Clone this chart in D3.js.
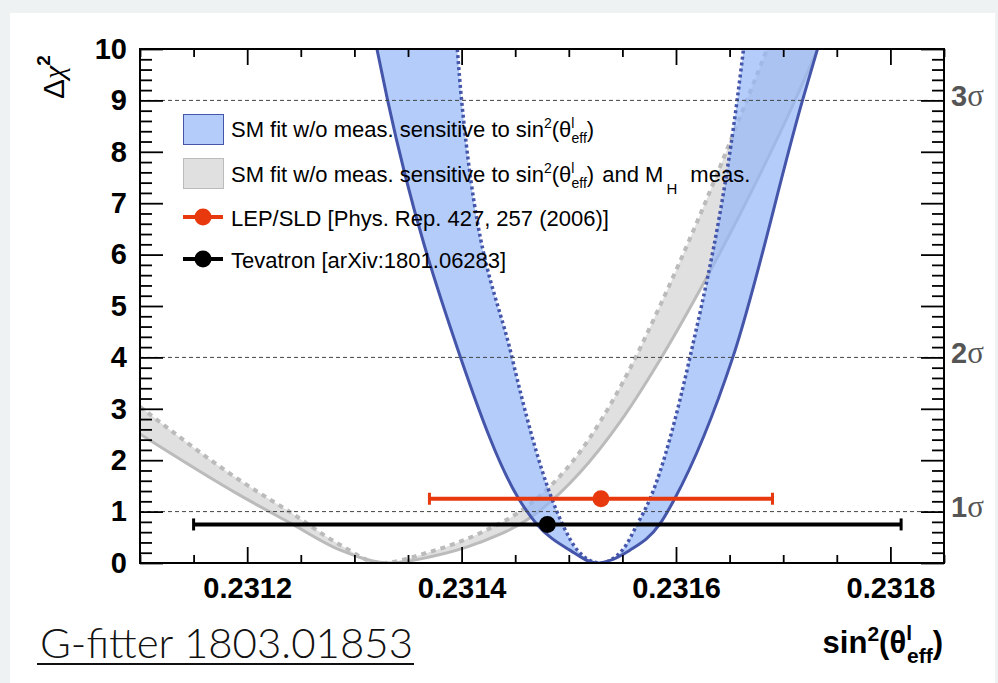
<!DOCTYPE html>
<html>
<head>
<meta charset="utf-8">
<title>sin2 theta eff scan</title>
<script src="https://cdn.jsdelivr.net/npm/d3@7"></script>
<style>
    body { margin: 0; background: #eef2f2; }
    text { font-family: "Liberation Sans", Arial, sans-serif; fill: #000; }
    .lab .tick text { font-weight: bold; font-size: 29px; }
    .ax .tick line { stroke: #000; stroke-width: 1.8; }
</style>
</head>
<body>
<script>
    // chi2 scans
    var fitX    = [0.231321, 0.231331, 0.231399, 0.231453, 0.231470, 0.231501, 0.231526, 0.231557, 0.231585, 0.231599, 0.231653, 0.231718, 0.231732];
    var fitChi2 = [10, 9, 4, 1.26, 0.76, 0.25, 0, 0.25, 0.76, 1.26, 4, 9, 10];
    var fitDotX    = [0.231396, 0.231400, 0.231447, 0.231484, 0.231494, 0.231508, 0.231529, 0.231550, 0.231564, 0.231576, 0.231613, 0.231657, 0.231663];
    var fitDotChi2 = [10, 9, 4, 1.26, 0.76, 0.25, 0, 0.25, 0.76, 1.26, 4, 9, 10];

    var mhX    = [0.231100, 0.231193, 0.231240, 0.231287, 0.231333, 0.231371, 0.231417, 0.231464, 0.231510, 0.231548, 0.231585, 0.231622, 0.231660, 0.231711, 0.231732];
    var mhChi2 = [2.51, 1.32, 0.78, 0.25, 0, 0.12, 0.4, 0.88, 1.75, 2.75, 3.95, 5.3, 6.8, 9.0, 10.0];
    var mhDotX    = [0.231100, 0.231193, 0.231240, 0.231287, 0.231324, 0.231371, 0.231417, 0.231464, 0.231510, 0.231550, 0.231585, 0.231622, 0.231666, 0.231685];
    var mhDotChi2 = [3.04, 1.61, 0.99, 0.35, 0, 0.22, 0.58, 1.15, 2.15, 3.5, 5.0, 6.75, 9.0, 10];

    // measurements
    var measNames = ['LEP/SLD [Phys. Rep. 427, 257 (2006)]', 'Tevatron [arXiv:1801.06283]'];
    var measValue = [0.23153, 0.23148];
    var measError = [0.00016, 0.00033];
    var measRow   = [1.25, 0.75];
    var measColor = ['#e8380d', '#000000'];

    var xTicks = [0.2312, 0.2314, 0.2316, 0.2318];
    var yTicks = [0, 1, 2, 3, 4, 5, 6, 7, 8, 9, 10];
    var sigmaLevels = [1, 4, 9];
    var sigmaLabels = ['1', '2', '3'];

    var margin = {left: 140, top: 49};
    var width = 804, height = 514;

    var root = d3.select('body').append('svg')
        .attr('width', 998)
        .attr('height', 683);

    root.append('rect').attr('width', 998).attr('height', 683).attr('fill', '#eef2f2');
    root.append('rect').attr('x', 10).attr('y', 13).attr('width', 985).attr('height', 670).attr('fill', '#fff');

    var svg = root.append('g')
        .attr('transform', 'translate(' + margin.left + ',' + margin.top + ')');

    var x = d3.scaleLinear().domain([0.2311, 0.23185]).range([0, width]);
    var y = d3.scaleLinear().domain([0, 10]).range([height, 0]);

    svg.append('clipPath').attr('id', 'clip')
        .append('rect').attr('width', width).attr('height', height);

    var line = d3.line()
        .x(function(d) { return x(d[0]); })
        .y(function(d) { return y(d[1]); })
        .curve(d3.curveMonotoneX);

    function band(lo, hi) {
        return line(lo) + line(hi.slice().reverse()).replace(/^M/, 'L') + 'Z';
    }

    var fit = d3.zip(fitX, fitChi2),
        fitDot = d3.zip(fitDotX, fitDotChi2),
        mh = d3.zip(mhX, mhChi2),
        mhDot = d3.zip(mhDotX, mhDotChi2);

    var plot = svg.append('g').attr('clip-path', 'url(#clip)');

    // gray band under, blue band drawn translucent on top
    plot.append('path').attr('d', band(mh, mhDot)).attr('fill', '#e0e0e0');
    plot.append('path').attr('d', line(mh)).attr('fill', 'none')
        .attr('stroke', '#bbb').attr('stroke-width', 3);
    plot.append('path').attr('d', line(mhDot)).attr('fill', 'none')
        .attr('stroke', '#bbb').attr('stroke-width', 4).attr('stroke-dasharray', '5,5');

    plot.append('path').attr('d', band(fit, fitDot)).attr('fill', 'rgb(148,183,248)')
        .attr('fill-opacity', 0.71);
    plot.append('path').attr('d', line(fit)).attr('fill', 'none')
        .attr('stroke', '#4455aa').attr('stroke-width', 3);
    plot.append('path').attr('d', line(fitDot)).attr('fill', 'none')
        .attr('stroke', '#4455aa').attr('stroke-width', 3.5).attr('stroke-dasharray', '3,3');

    // dashed sigma lines
    svg.selectAll('.sig').data(sigmaLevels).enter()
        .append('line')
        .attr('x1', 0).attr('x2', width)
        .attr('y1', function(d) { return y(d); })
        .attr('y2', function(d) { return y(d); })
        .attr('stroke', '#444').attr('stroke-width', 1)
        .attr('stroke-dasharray', '4,3');

    // measurements
    var meas = svg.selectAll('.meas').data(measValue).enter().append('g');
    meas.append('line')
        .attr('x1', function(d, i) { return x(d - measError[i]); })
        .attr('x2', function(d, i) { return x(d + measError[i]); })
        .attr('y1', function(d, i) { return y(measRow[i]); })
        .attr('y2', function(d, i) { return y(measRow[i]); })
        .attr('stroke', function(d, i) { return measColor[i]; })
        .attr('stroke-width', 4);
    [-1, 1].forEach(function(s) {
        meas.append('line')
            .attr('x1', function(d, i) { return x(d + s * measError[i]); })
            .attr('x2', function(d, i) { return x(d + s * measError[i]); })
            .attr('y1', function(d, i) { return y(measRow[i]) - 6; })
            .attr('y2', function(d, i) { return y(measRow[i]) + 6; })
            .attr('stroke', function(d, i) { return measColor[i]; })
            .attr('stroke-width', 3);
    });
    meas.append('circle')
        .attr('cx', function(d) { return x(d); })
        .attr('cy', function(d, i) { return y(measRow[i]); })
        .attr('r', 8.5)
        .attr('fill', function(d, i) { return measColor[i]; });

    // axes
    var xMinor = d3.range(0, 16).map(function(i) { return 0.2311 + i * 0.00005; })
        .filter(function(v) { return xTicks.every(function(t) { return Math.abs(t - v) > 1e-9; }); });
    var yMinor = d3.range(0, 51).map(function(i) { return i * 0.2; })
        .filter(function(v) { return Math.abs(v - Math.round(v)) > 1e-6; });

    function ax(g) { g.select('.domain').remove(); return g; }

    svg.append('g').attr('class', 'ax lab').attr('transform', 'translate(0,' + height + ')')
        .call(d3.axisBottom(x).tickValues(xTicks).tickSize(-16).tickPadding(14)
            .tickFormat(d3.format('.4f'))).call(ax);
    svg.append('g').attr('class', 'ax').attr('transform', 'translate(0,' + height + ')')
        .call(d3.axisBottom(x).tickValues(xMinor).tickSize(-8).tickFormat('')).call(ax);
    svg.append('g').attr('class', 'ax')
        .call(d3.axisTop(x).tickValues(xTicks).tickSize(-16).tickFormat('')).call(ax);
    svg.append('g').attr('class', 'ax')
        .call(d3.axisTop(x).tickValues(xMinor).tickSize(-8).tickFormat('')).call(ax);

    svg.append('g').attr('class', 'ax lab')
        .call(d3.axisLeft(y).tickValues(yTicks).tickSize(-23).tickPadding(13)).call(ax);
    svg.append('g').attr('class', 'ax')
        .call(d3.axisLeft(y).tickValues(yMinor).tickSize(-12).tickFormat('')).call(ax);
    svg.append('g').attr('class', 'ax').attr('transform', 'translate(' + width + ',0)')
        .call(d3.axisRight(y).tickValues(yTicks).tickSize(-23).tickFormat('')).call(ax);
    svg.append('g').attr('class', 'ax').attr('transform', 'translate(' + width + ',0)')
        .call(d3.axisRight(y).tickValues(yMinor).tickSize(-12).tickFormat('')).call(ax);

    svg.append('rect').attr('width', width).attr('height', height)
        .attr('fill', 'none').attr('stroke', '#000').attr('stroke-width', 2);

    // sigma labels on the right
    var sig = svg.selectAll('.siglab').data(sigmaLevels).enter()
        .append('text')
        .attr('x', width + 7)
        .attr('y', function(d) { return y(d); })
        .attr('dy', '0.36em')
        .style('fill', '#555');
    sig.append('tspan').style('font-weight', 'bold').style('font-size', '29px').style('fill', '#555')
        .text(function(d, i) { return sigmaLabels[i]; });
    sig.append('tspan').style('font-family', '"Liberation Serif", serif').style('font-size', '31px').style('fill', '#555')
        .text('\u03c3');

    // axis titles
    var yt = root.append('text')
        .attr('transform', 'translate(64,99) rotate(-90)')
        .style('font-size', '30px');
    yt.append('tspan').text('\u0394');
    yt.append('tspan').style('font-family', '"Liberation Serif", serif').style('font-style', 'italic').text('\u03c7');
    yt.append('tspan').attr('dy', -14).style('font-size', '19px').style('font-weight', 'bold').text('2');

    var xt = root.append('text')
        .attr('x', 943).attr('y', 653)
        .attr('text-anchor', 'end')
        .style('font-size', '31px').style('font-weight', 'bold');
    xt.append('tspan').text('sin');
    xt.append('tspan').attr('dy', -12).style('font-size', '21px').text('2');
    xt.append('tspan').attr('dy', 12).text('(\u03b8');
    xt.append('tspan').attr('dy', -13).style('font-size', '21px').text('l');
    xt.append('tspan').attr('dx', -5).attr('dy', 23).style('font-size', '21px').text('eff');
    xt.append('tspan').attr('dy', -10).text(')');

    // legend
    var lg = root.append('g').attr('transform', 'translate(183,0)');
    lg.append('rect').attr('x', 0.5).attr('y', 114.5).attr('width', 40).attr('height', 30)
        .attr('fill', '#b3ccfa').attr('stroke', '#4455aa').attr('stroke-width', 1);
    lg.append('rect').attr('x', 0.5).attr('y', 158.5).attr('width', 40).attr('height', 30)
        .attr('fill', '#e0e0e0').attr('stroke', '#bbb').attr('stroke-width', 1);

    function thetaEff(t) {
        t.append('tspan').attr('dy', -9).style('font-size', '14px').text('2');
        t.append('tspan').attr('dy', 9).text('(\u03b8');
        t.append('tspan').attr('dy', -9).style('font-size', '14px').text('l');
        t.append('tspan').attr('dx', -3).attr('dy', 15).style('font-size', '14px').text('eff');
        t.append('tspan').attr('dy', -6).text(')');
    }

    var t1 = lg.append('text').attr('x', 48).attr('y', 137).style('font-size', '22px');
    t1.append('tspan').text('SM fit w/o meas. sensitive to sin');
    thetaEff(t1);

    var t2 = lg.append('text').attr('x', 48).attr('y', 182).style('font-size', '22px');
    t2.append('tspan').text('SM fit w/o meas. sensitive to sin');
    thetaEff(t2);
    t2.append('tspan').attr('dx', 2).text(' and M');
    t2.append('tspan').attr('dx', 3).attr('dy', 12).style('font-size', '15px').text('H');
    t2.append('tspan').attr('dx', 7).attr('dy', -12).text(' meas.');

    var rows = [217, 259];
    measNames.forEach(function(n, i) {
        lg.append('line').attr('x1', 0).attr('x2', 40).attr('y1', rows[i]).attr('y2', rows[i])
            .attr('stroke', measColor[i]).attr('stroke-width', 4);
        lg.append('circle').attr('cx', 20).attr('cy', rows[i]).attr('r', 8.5).attr('fill', measColor[i]);
        lg.append('text').attr('x', 48).attr('y', rows[i] + 9).style('font-size', '22px').text(n);
    });

    // source tag
    root.append('text')
        .attr('x', 40).attr('y', 658)
        .attr('textLength', 373).attr('lengthAdjust', 'spacing')
        .style('font-family', 'Lato, "Open Sans", sans-serif')
        .style('font-weight', 300)
        .style('font-size', '42px')
        .style('fill', '#111')
        .text('G-fitter 1803.01853');
    root.append('line').attr('x1', 37).attr('x2', 414).attr('y1', 664).attr('y2', 664)
        .attr('stroke', '#111').attr('stroke-width', 2);
</script>
</body>
</html>
